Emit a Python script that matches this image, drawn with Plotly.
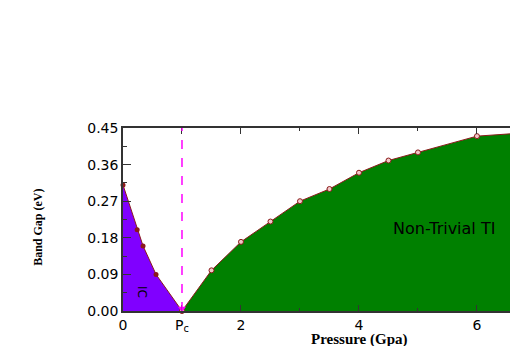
import plotly.graph_objects as go

# conventional insulator side (left of Pc)
ci_p = [0, 0.24, 0.34, 0.56, 1.0]
ci_gap = [0.31, 0.20, 0.16, 0.09, 0.0]

# non-trivial TI side (right of Pc)
ti_p = [1.0, 1.5, 2.0, 2.5, 3.0, 3.5, 4.0, 4.5, 5.0, 6.0, 7.0]
ti_gap = [0.0, 0.10, 0.17, 0.22, 0.27, 0.30, 0.34, 0.37, 0.39, 0.43, 0.44]

pc = 1.0
x_ticks = [0, 1, 2, 4, 6]
x_labels = ["0", "P<sub>c</sub>", "2", "4", "6"]
y_ticks = [0.0, 0.09, 0.18, 0.27, 0.36, 0.45]

line_col = "#8b1a1a"
tick_font = dict(family="DejaVu Sans", size=14, color="black")

fig = go.Figure()

fig.add_trace(go.Scatter(
    x=ci_p, y=ci_gap, fill="tozeroy", fillcolor="#8000ff",
    mode="lines+markers", line=dict(color=line_col, width=1),
    marker=dict(symbol="circle", size=5, color=line_col),
    showlegend=False, cliponaxis=False))

fig.add_trace(go.Scatter(
    x=ti_p, y=ti_gap, fill="tozeroy", fillcolor="#008000",
    mode="lines+markers", line=dict(color=line_col, width=1),
    marker=dict(symbol="circle", size=5, color="#f0c8c8",
                line=dict(color=line_col, width=1)),
    showlegend=False, cliponaxis=False))

# arrow head at Pc
fig.add_trace(go.Scatter(
    x=[pc], y=[0.006], mode="markers",
    marker=dict(symbol="triangle-down", size=7, color="#ff00ff"),
    showlegend=False, cliponaxis=False))

fig.add_shape(type="line", x0=pc, x1=pc, y0=0, y1=0.45, xref="x", yref="y",
              line=dict(color="#ff00ff", width=1.5, dash="dash"))

fig.add_annotation(x=0.32, y=0.047, xref="x", yref="y", text="IC", textangle=90,
                   showarrow=False, font=dict(family="DejaVu Sans", size=12, color="black"))
fig.add_annotation(x=4.54, y=0.204, xref="x", yref="y", text="Non-Trivial TI",
                   xanchor="left", showarrow=False,
                   font=dict(family="DejaVu Sans", size=16, color="black"))

fig.add_annotation(x=0.61, y=-0.156, xref="paper", yref="paper", text="<b>Pressure (Gpa)</b>",
                   showarrow=False, xanchor="center", yanchor="middle",
                   font=dict(family="Liberation Serif", size=15, color="black"))
fig.add_annotation(x=-0.22, y=0.459, xref="paper", yref="paper", text="<b>Band Gap (eV)</b>",
                   textangle=-90, showarrow=False, xanchor="center", yanchor="middle",
                   font=dict(family="Liberation Serif", size=12, color="black"))

fig.update_xaxes(
    range=[0, 6.56], tickmode="array", tickvals=x_ticks, ticktext=x_labels,
    ticks="inside", ticklen=6, tickcolor="#333", showline=True, linecolor="#333",
    linewidth=1.5, mirror="ticks", showgrid=False, zeroline=False,
    tickfont=tick_font,
    minor=dict(tickmode="array", tickvals=[3, 5], ticks="inside", ticklen=3, tickcolor="#333"))
fig.update_yaxes(
    range=[0, 0.45], tickmode="array", tickvals=y_ticks, tickformat=".2f",
    ticks="inside", ticklen=8, tickcolor="#333", showline=True, linecolor="#333",
    linewidth=1.5, mirror=False, showgrid=False, zeroline=False,
    tickfont=tick_font,
    minor=dict(dtick=0.045, tick0=0, ticks="inside", ticklen=4, tickcolor="#333"))

# page body keeps its default 8px margin, so the figure is shrunk to fit the window
fig.update_layout(
    width=502, height=338,
    margin=dict(l=115, r=0, t=120, b=35),
    paper_bgcolor="white", plot_bgcolor="white")

fig.write_html("out.html")
